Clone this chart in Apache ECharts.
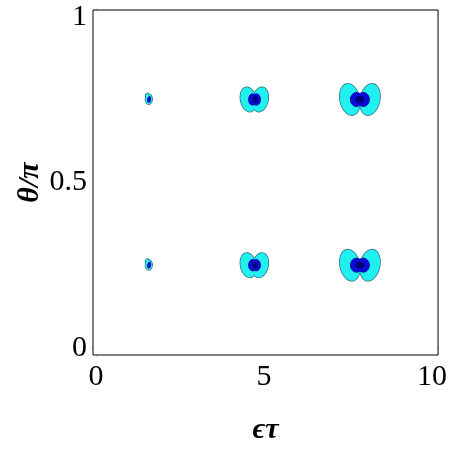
<!DOCTYPE html>
<html><head><meta charset="utf-8">
<script src="https://cdn.jsdelivr.net/npm/echarts@6/dist/echarts.min.js"></script>
<style>html,body{margin:0;padding:0;background:#fff}#c{width:450px;height:450px}</style>
</head><body><div id="c"></div>
<script>
// axis ticks
const xTicks = [0, 5, 10];
const yTicks = [0, 0.5, 1];
// blob centres (data units)
const blobX = [1.571, 4.712, 7.854];
const blobY = [0.25, 0.75];
// contour lobes per blob: [dx, dy, rx, ry, tiltDeg]
const outerLobes = [
  [[0, 0.001, 0.10, 0.015, 0], [-0.05, 0.013, 0.04, 0.006, 20]],
  [[-0.18, 0, 0.23, 0.0375, -12], [0.18, 0, 0.23, 0.0375, 12]],
  [[-0.30, 0, 0.29, 0.048, -12], [0.30, 0, 0.29, 0.048, 12]]
];
const blueLobes = [
  [[0.01, 0, 0.045, 0.009, 10]],
  [[-0.05, 0, 0.12, 0.017, 0], [0.06, 0, 0.12, 0.017, 0]],
  [[-0.10, 0, 0.18, 0.021, 0], [0.10, 0, 0.18, 0.021, 0]]
];
const navyLobes = [
  [],
  [[0.03, 0, 0.08, 0.010, 0]],
  [[0, 0, 0.13, 0.011, 0]]
];

function build(lobes) {
  const out = [];
  blobX.forEach((cx, i) => {
    blobY.forEach(cy => {
      lobes[i].forEach(l => out.push([cx + l[0], cy + l[1], l[2], l[3], l[4]]));
    });
  });
  return out;
}

function renderer(fill, stroke, lw) {
  return function (params, api) {
    const c = api.coord([api.value(0), api.value(1)]);
    const s = api.size([api.value(2), api.value(3)]);
    const a = api.value(4) * Math.PI / 180;
    const pts = [];
    for (let k = 0; k < 60; k++) {
      const t = k / 60 * Math.PI * 2;
      const x = s[0] * Math.cos(t), y = s[1] * Math.sin(t);
      pts.push([c[0] + x * Math.cos(a) - y * Math.sin(a), c[1] + x * Math.sin(a) + y * Math.cos(a)]);
    }
    return {
      type: 'polygon',
      shape: { points: pts },
      style: stroke ? { fill: fill, stroke: stroke, lineWidth: lw } : { fill: fill, stroke: null }
    };
  };
}

const layers = [
  [outerLobes, '#22f0f0', '#1f5f6a', 1.3],
  [blueLobes, '#0a0ad8', '#101070', 1.0],
  [navyLobes, '#00007a', null, 0]
];
const series = [];
let z = 2;
layers.forEach(([lobes, col, st, lw]) => {
  const d = build(lobes);
  if (st) series.push({ type: 'custom', data: d, renderItem: renderer(col, st, lw), z: z++, silent: true, animation: false });
  series.push({ type: 'custom', data: d, renderItem: renderer(col, null, 0), z: z++, silent: true, animation: false });
});

const font = '"Liberation Serif", "Times New Roman", serif';
const chart = echarts.init(document.getElementById('c'));
chart.setOption({
  animation: false,
  backgroundColor: '#fff',
  grid: { left: 93, right: 9, top: 10, bottom: 93, show: true, borderColor: '#000', borderWidth: 1, backgroundColor: '#fff', z: 1 },
  xAxis: {
    type: 'value', min: -0.09, max: 10.18,
    name: 'ϵτ', nameLocation: 'middle', nameGap: 60, nameMoveOverlap: false,
    nameTextStyle: { fontFamily: font, fontSize: 30, fontWeight: 'bold', fontStyle: 'italic', color: '#000' },
    axisLine: { show: true, lineStyle: { color: '#000', width: 1 } },
    axisTick: { show: true, inside: true, length: 5, customValues: xTicks, lineStyle: { color: '#000' } },
    axisLabel: { customValues: xTicks, fontFamily: font, fontSize: 30, color: '#000', margin: 7 },
    splitLine: { show: false }
  },
  yAxis: {
    type: 'value', min: -0.021, max: 1.02,
    name: 'θ/π', nameLocation: 'middle', nameGap: 48, nameRotate: 90, nameMoveOverlap: false,
    nameTextStyle: { fontFamily: font, fontSize: 30, fontWeight: 'bold', fontStyle: 'italic', color: '#000' },
    axisLine: { show: true, lineStyle: { color: '#000', width: 1 } },
    axisTick: { show: true, inside: true, length: 5, customValues: yTicks, lineStyle: { color: '#000' } },
    axisLabel: { customValues: yTicks, fontFamily: font, fontSize: 30, color: '#000', margin: 6,
      formatter: v => (v === 0.5 ? '0.5' : String(Math.round(v))) },
    splitLine: { show: false }
  },
  series: series
});
</script></body></html>
